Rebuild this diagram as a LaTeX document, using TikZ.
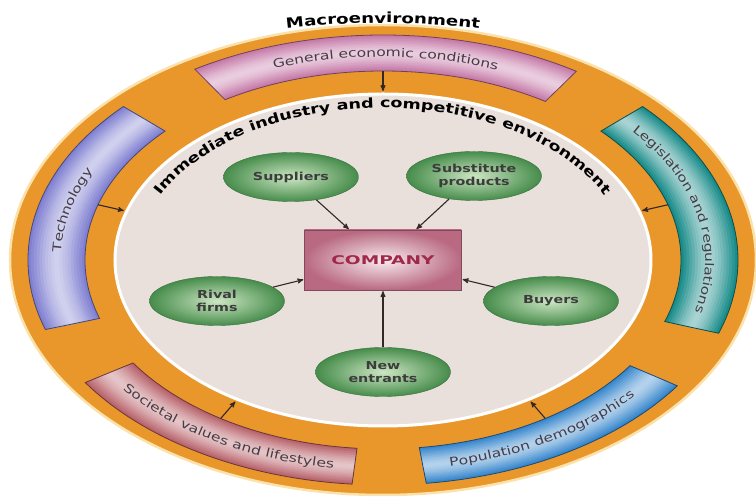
\documentclass[tikz,border=0pt]{standalone}
\usepackage{fontspec}
\setmainfont{DejaVu Sans}
\newfontfamily\widefont[FakeStretch=1.3]{DejaVu Sans}
\newfontfamily\companyfont[FakeStretch=1.55]{DejaVu Sans}
\usepackage{xcolor}
\usepackage{tikz}
\usetikzlibrary{shapes,arrows,positioning,decorations.text}

\definecolor{ringorange}{RGB}{233,150,42}
\definecolor{ringrim}{RGB}{250,226,170}
\definecolor{innerbg}{RGB}{233,224,220}
\definecolor{econ}{RGB}{198,122,168}
\definecolor{tech}{RGB}{128,128,210}
\definecolor{legis}{RGB}{25,140,138}
\definecolor{social}{RGB}{185,100,108}
\definecolor{popul}{RGB}{55,135,205}
\definecolor{ovaldark}{RGB}{70,140,75}
\definecolor{ovallight}{RGB}{205,230,195}
\definecolor{firmdark}{RGB}{185,105,130}
\definecolor{firmlight}{RGB}{248,236,240}
\definecolor{firmink}{RGB}{160,40,72}
\definecolor{forceink}{RGB}{60,60,60}
\definecolor{bandink}{RGB}{70,60,70}
\definecolor{arrowgray}{RGB}{50,40,40}

\begin{document}
\begin{tikzpicture}[
        x=1pt, y=1pt,
        force/.style={ellipse, minimum width=135pt, minimum height=49pt, inner sep=0pt, align=center, shading=radial, inner color=ovallight, outer color=ovaldark, draw=ovaldark!80!black, thin, text=forceink, font=\widefont\bfseries\fontsize{11}{12.5}\selectfont},
        firm/.style={rectangle, minimum width=157pt, minimum height=60pt, shading=radial, inner color=firmlight, outer color=firmdark, draw=firmdark!70!black, thin, text=firmink, font=\companyfont\bfseries\fontsize{12}{14}\selectfont},
        push/.style={->,>=stealth',shorten >=1pt,line width=1.1pt,draw=arrowgray},
        bandtext/.style={decorate, decoration={text along path, text align=center, raise=-3.8pt, text={|\widefont\fontsize{12}{14}\selectfont\color{bandink}|#1}}},
        ]
      \useasboundingbox (-383,-237) rectangle (373,260);

      % rings
      \fill[ringorange] (0,0) ellipse[x radius=373pt, y radius=235pt];
      \draw[ringrim, line width=2.5pt] (0,0) ellipse[x radius=373pt, y radius=235pt];
      \draw[white, line width=3pt, fill=innerbg] (0,0) ellipse[x radius=268pt, y radius=166pt];

      % macroenvironment bands
      \foreach \ta/\tb/\col in {57/122/econ,137/198/tech,-19/43/legis,213/265/social,277/326/popul} {
        \foreach \f/\s in {0/0,0.05/8,0.1/16,0.15/24,0.2/32,0.25/40,0.3/47,0.35/53,0.4/58,0.45/62} {
          \pgfmathsetmacro\ain{298+57*\f}
          \pgfmathsetmacro\bin{189+36*\f}
          \pgfmathsetmacro\aout{355-57*\f}
          \pgfmathsetmacro\bout{225-36*\f}
          \fill[white!\s!\col] (\ta:\aout pt and \bout pt) arc[start angle=\ta, end angle=\tb, x radius=\aout pt, y radius=\bout pt]
            -- (\tb:\ain pt and \bin pt) arc[start angle=\tb, end angle=\ta, x radius=\ain pt, y radius=\bin pt] -- cycle;
        }
        \draw[\col!55!black, line width=0.8pt] (\ta:355pt and 225pt) arc[start angle=\ta, end angle=\tb, x radius=355pt, y radius=225pt]
          -- (\tb:298pt and 189pt) arc[start angle=\tb, end angle=\ta, x radius=298pt, y radius=189pt] -- cycle;
      }

      % band labels
      \path[bandtext={General economic conditions}] (122:326pt and 207pt) arc[start angle=122, end angle=57, x radius=326pt, y radius=207pt];
      \path[bandtext={Technology}] (198:326pt and 207pt) arc[start angle=198, end angle=137, x radius=326pt, y radius=207pt];
      \path[bandtext={Legislation and regulations}] (43:326pt and 207pt) arc[start angle=43, end angle=-19, x radius=326pt, y radius=207pt];
      \path[bandtext={Societal values and lifestyles}] (213:326pt and 207pt) arc[start angle=213, end angle=265, x radius=326pt, y radius=207pt];
      \path[bandtext={Population demographics}] (277:326pt and 207pt) arc[start angle=277, end angle=326, x radius=326pt, y radius=207pt];

      % titles
      \path[decorate, decoration={text along path, text align=center, text={|\widefont\bfseries\fontsize{14}{16}\selectfont|Macroenvironment}}]
        (105:440pt and 237pt) arc[start angle=105, end angle=75, x radius=440pt, y radius=237pt];
      \path[decorate, decoration={text along path, text align=center, text={|\widefont\bfseries\fontsize{13.5}{16}\selectfont|Immediate industry and competitive environment}}]
        (165:245pt and 152pt) arc[start angle=165, end angle=15, x radius=245pt, y radius=152pt];

      % band arrow ends
      \path (90:298pt and 189pt) coordinate (econ-a) (90:270pt and 168pt) coordinate (econ-b);
      \path (163:298pt and 189pt) coordinate (tech-a) (163:270pt and 168pt) coordinate (tech-b);
      \path (17:298pt and 189pt) coordinate (legis-a) (17:270pt and 168pt) coordinate (legis-b);
      \path (237:298pt and 189pt) coordinate (social-a) (237:270pt and 168pt) coordinate (social-b);
      \path (303:298pt and 189pt) coordinate (popul-a) (303:270pt and 168pt) coordinate (popul-b);

      \node[firm] (company) at (0,0) {COMPANY};
      \node[force] (suppliers) at (-92,83) {Suppliers};
      \node[force] (substitutes) at (91,84) {Substitute\\products};
      \node[force] (rivals) at (-166,-41) {Rival\\firms};
      \node[force] (buyers) at (168,-41) {Buyers};
      \node[force] (entrants) at (0,-112) {New\\entrants};

      \draw[push] (econ-a) -- (econ-b);
      \draw[push] (tech-a) -- (tech-b);
      \draw[push] (legis-a) -- (legis-b);
      \draw[push] (social-a) -- (social-b);
      \draw[push] (popul-a) -- (popul-b);
      \draw[push] (suppliers) -- (company);
      \draw[push] (substitutes) -- (company);
      \draw[push] (rivals) -- (company);
      \draw[push] (buyers) -- (company);
      \draw[push] (entrants) -- (company);
    \end{tikzpicture}
\end{document}
